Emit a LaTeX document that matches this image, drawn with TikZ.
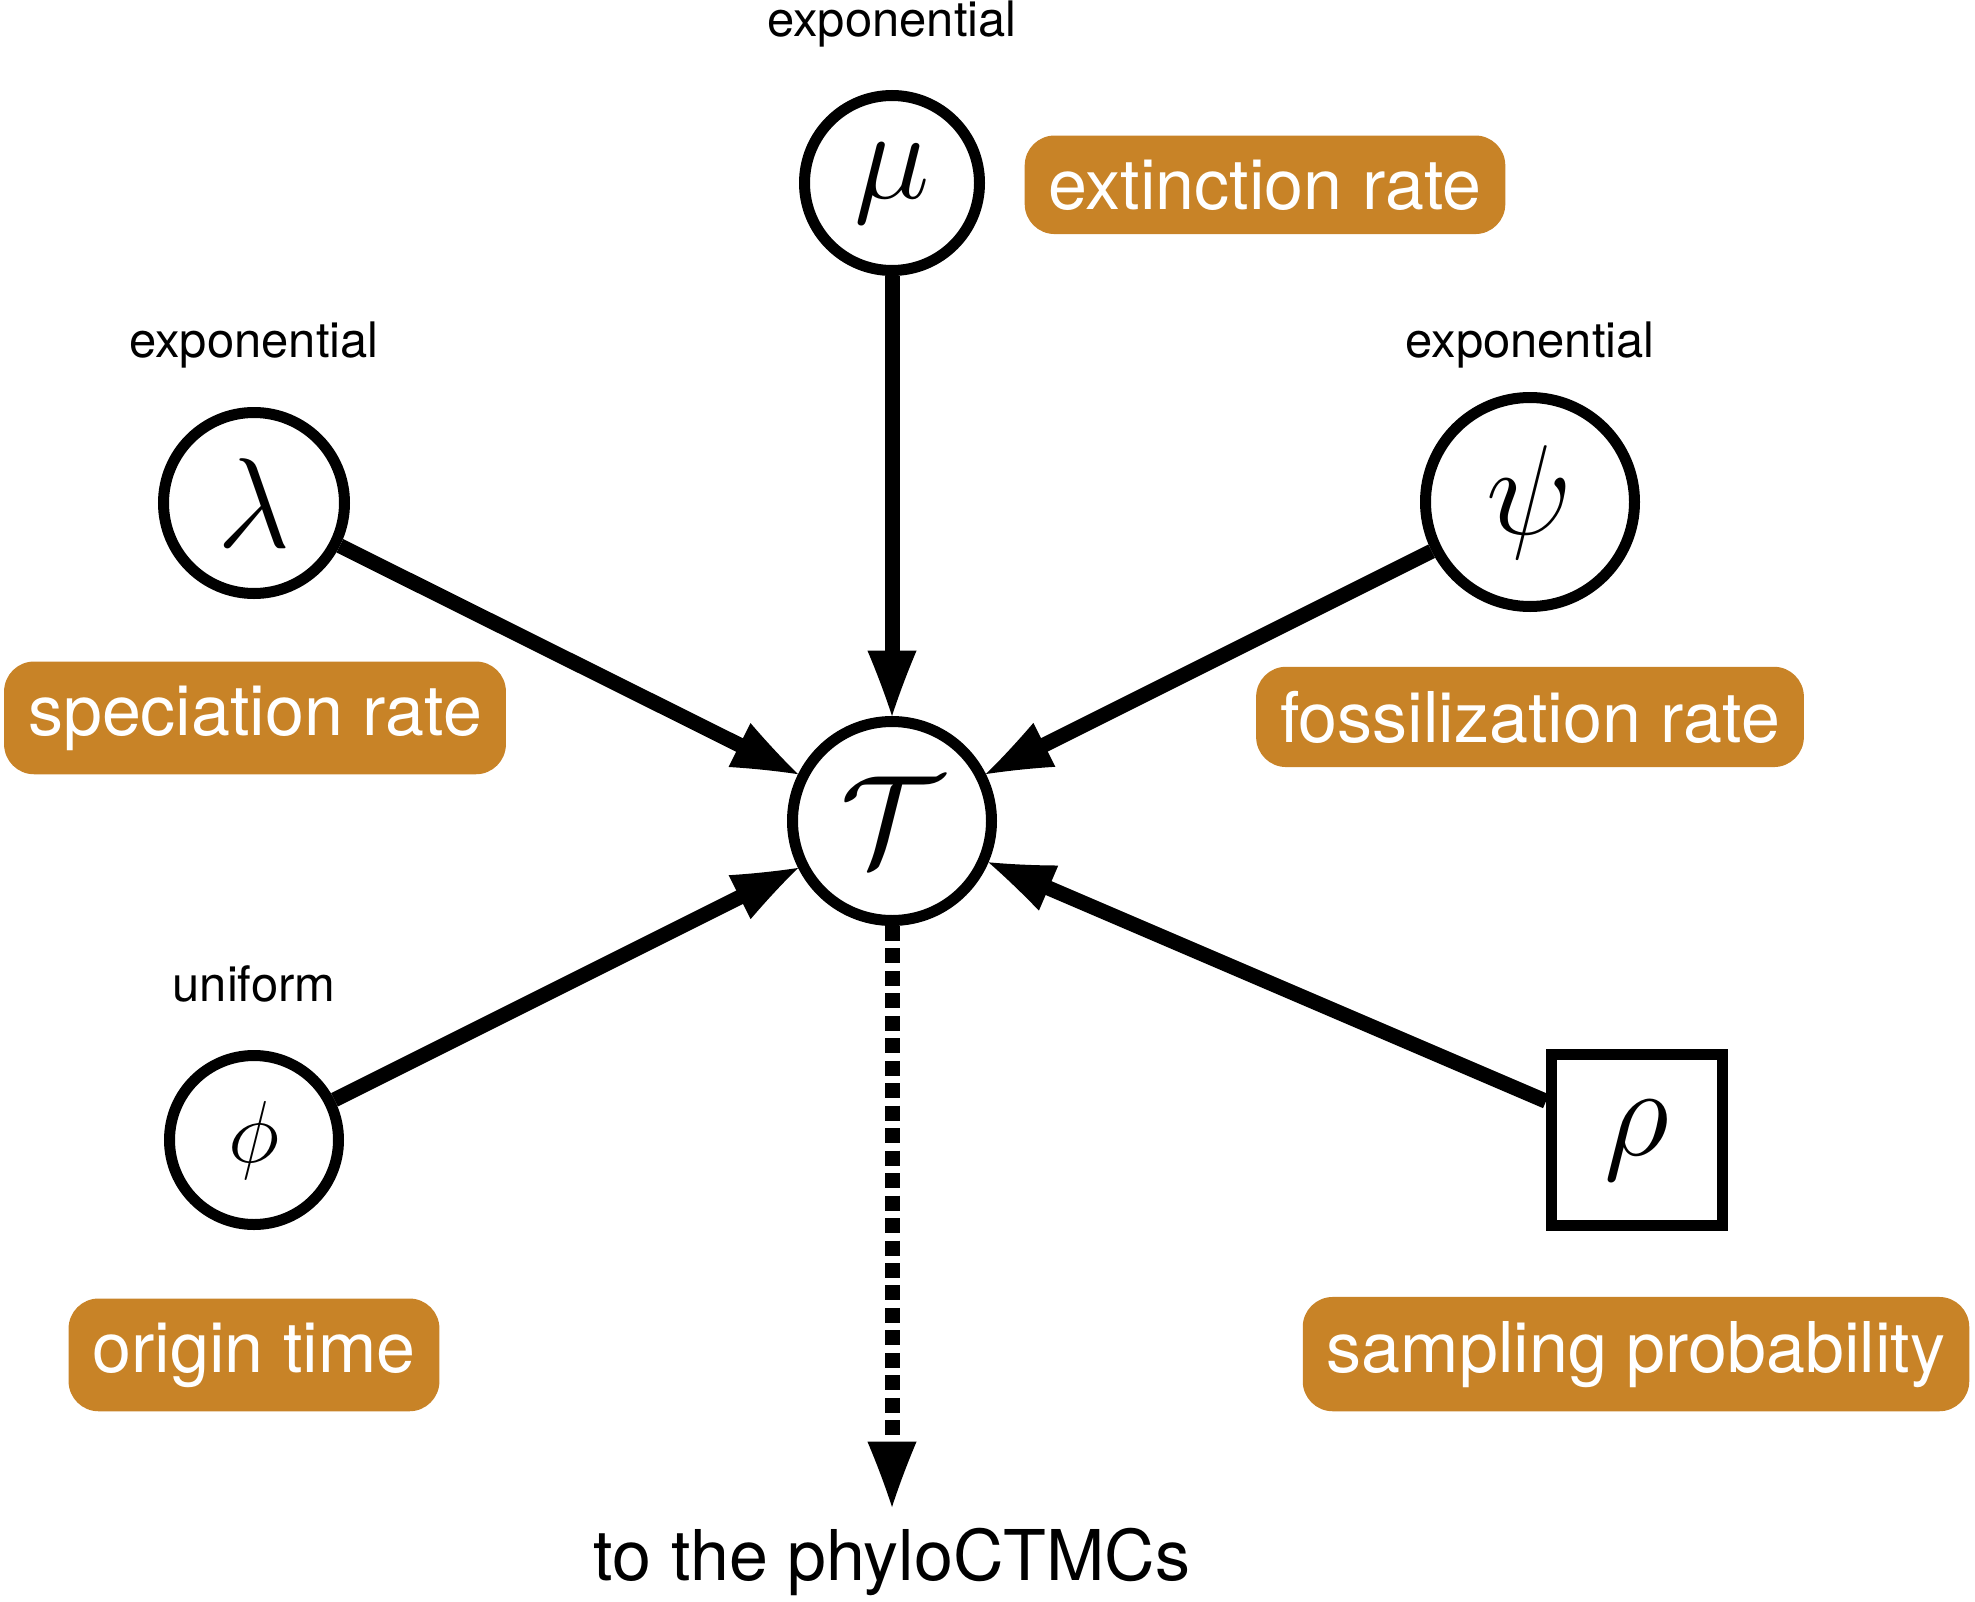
\RequirePackage{fix-cm}
\documentclass[tikz,border=0pt]{standalone}
\usepackage{fontspec}
\setmainfont{TeX Gyre Heros}
\usetikzlibrary{arrows.meta}

\definecolor{ochre}{RGB}{200,131,39}

\pgfdeclarearrow{
  name = Spike,
  setup code = {
    \pgfarrowssettipend{0pt}
    \pgfarrowssetlineend{-45pt}
    \pgfarrowssetvisualbackend{-49pt}
    \pgfarrowssetbackend{-49pt}
    \pgfarrowshullpoint{0pt}{0pt}
    \pgfarrowshullpoint{-49pt}{18.4pt}
    \pgfarrowshullpoint{-49pt}{-18.4pt}
  },
  drawing code = {
    \pgfpathmoveto{\pgfqpoint{0pt}{0pt}}
    \pgfpathcurveto{\pgfqpoint{-16pt}{5.2pt}}{\pgfqpoint{-33pt}{11.6pt}}{\pgfqpoint{-49pt}{18.4pt}}
    \pgfpathlineto{\pgfqpoint{-49pt}{-18.4pt}}
    \pgfpathcurveto{\pgfqpoint{-33pt}{-11.6pt}}{\pgfqpoint{-16pt}{-5.2pt}}{\pgfqpoint{0pt}{0pt}}
    \pgfpathclose
    \pgfusepathqfill
  }
}

\tikzset{every picture/.style={line width=0.75pt}}
\tikzset{
  varnode/.style={draw, circle, line width=8.25pt, inner sep=0pt, font=\fontsize{96}{100}\selectfont},
  fixnode/.style={draw, rectangle, line width=8.25pt, inner sep=0pt, minimum size=128.25pt, font=\fontsize{96}{100}\selectfont},
  tag/.style={fill=ochre, text=white, rounded corners=22.5pt, inner sep=18pt, anchor=base, font=\fontsize{52.5}{60}\selectfont},
  prior/.style={inner sep=0pt, anchor=base, font=\fontsize{36.7}{42}\selectfont},
  dep/.style={line width=11.25pt, -Spike},
}

\begin{document}
\begin{tikzpicture}[x=0.75pt,y=0.75pt,yscale=-1,xscale=1]
\useasboundingbox (0,0) rectangle (1975,1602);

% Variable Nodes
\node [varnode, minimum size=131.25pt] (mu) at (892,183) {$\mu$};
\node [varnode, minimum size=135.75pt] (lambda) at (254,503) {$\lambda$};
\node [varnode, minimum size=156.75pt] (psi) at (1530,502) {$\psi$};
\node [varnode, minimum size=149.25pt] (tree) at (892,821) {$\mathcal{T}$};
\node [varnode, minimum size=126.75pt, font=\fontsize{66}{70}\selectfont] (phi) at (254,1140) {$\phi$};
\node [fixnode] (rho) at (1637,1140) {$\rho$};

% Text Node
\node [prior] (mudist) at (892,37) {exponential};
\node [prior] (lambdadist) at (254,357) {exponential};
\node [prior] (psidist) at (1530,357) {exponential};
\node [prior] (phidist) at (254,1001) {uniform};

% Text Node
\node [tag] (mutag) at (1265,209) {extinction rate};
\node [tag] (lambdatag) at (255,735) {speciation rate};
\node [tag] (psitag) at (1530,742) {fossilization rate};
\node [tag] (phitag) at (254,1372) {origin time};
\node [tag] (rhotag) at (1636,1372) {sampling probability};

% Text Node
\node [anchor=base, inner sep=0pt, font=\fontsize{52.5}{60}\selectfont] (out) at (892,1580) {to the phyloCTMCs};
\coordinate (sink) at (892,1507);

%Straight Lines
\draw [dep] (mu) -- (tree);
\draw [dep] (lambda) -- (tree);
\draw [dep] (psi) -- (tree);
\draw [dep] (phi) -- (tree);
\draw [dep] (rho) -- (tree);
\draw [dep, dash pattern=on 11.25pt off 5.6pt] (tree) -- (sink);

\end{tikzpicture}
\end{document}
